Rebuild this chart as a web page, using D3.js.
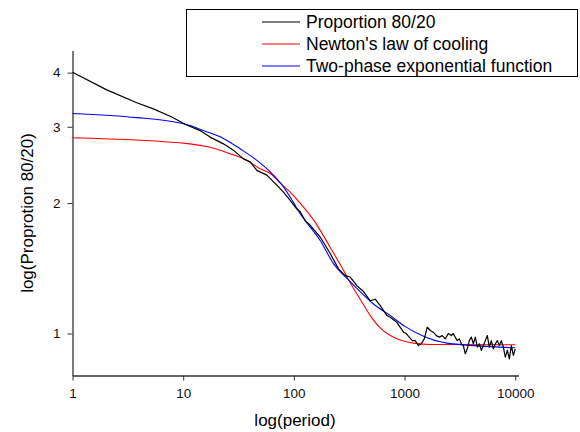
<!DOCTYPE html>
<html>
<head>
<meta charset="utf-8">
<script src="https://cdn.jsdelivr.net/npm/d3@7"></script>
<style>
body { margin: 0; background: #fff; }
text { font-family: "Liberation Sans", Arial, sans-serif; }
</style>
</head>
<body>
<svg id="svg" width="580" height="432"></svg>
<script>
// values
var propX = [1, 2.04, 3.81, 5.38, 7.89, 10.4, 14.2, 17.5, 23.1, 28.4, 35, 40.3, 46.3, 57, 70.2, 80.5, 92.6, 106, 114, 127, 140, 173, 213, 253, 291, 323, 371, 426, 490, 543, 603, 693, 743, 854, 980,
    1036, 1103, 1174, 1250, 1330, 1416, 1507, 1604, 1708, 1818, 1935, 2059, 2192, 2333, 2484, 2644, 2756,
    2873, 2996, 3124, 3256, 3394, 3538, 3689, 3846, 4010, 4181, 4358, 4543, 4737, 4938, 5148, 5367, 5594, 5832, 6081, 6339, 6609, 6890, 7181, 7486, 7805, 8137, 8483, 8844, 9220, 9612, 10000];
var propY = [4.01, 3.65, 3.41, 3.30, 3.16, 3.04, 2.94, 2.84, 2.74, 2.65, 2.53, 2.49, 2.38, 2.32, 2.20, 2.12, 2.03, 1.94, 1.91, 1.82, 1.78, 1.67, 1.53, 1.41, 1.36, 1.35, 1.29, 1.25, 1.19, 1.20, 1.16, 1.10, 1.09, 1.06, 1.007,
    1.0, 0.981, 0.963, 0.963, 0.938, 0.947, 0.972, 1.034, 1.016, 1.007, 0.989, 0.981, 0.989, 0.972, 1.0, 0.989, 1.0,
    0.98, 0.963, 0.972, 0.947, 0.938, 0.898, 0.922, 0.963, 0.981, 0.947, 0.981, 0.930, 0.947, 0.914, 0.938, 0.963, 0.989, 0.930, 0.963, 0.922, 0.947, 0.963, 0.938, 0.963, 0.930, 0.882, 0.914, 0.874, 0.938, 0.890, 0.922];

var newtonX = [1, 11.5, 17.5, 26.5, 37.6, 49.6, 61.2, 75.9, 92.6, 114, 155, 213, 272, 323, 397, 490, 603, 744, 854, 1206, 1730, 10000];
var newtonY = [2.83, 2.74, 2.69, 2.60, 2.51, 2.40, 2.34, 2.22, 2.12, 2.00, 1.81, 1.58, 1.42, 1.31, 1.20, 1.10, 1.03, 0.989, 0.972, 0.950, 0.943, 0.942];

var twoPhaseX = [1, 3.81, 7.6, 11.5, 15.2, 23.1, 32.6, 46.3, 61.2, 80.5, 98.8, 114, 127, 173, 228, 302, 397, 524, 744, 1000, 1485, 2417, 10000];
var twoPhaseY = [3.22, 3.15, 3.09, 3.02, 2.94, 2.82, 2.67, 2.51, 2.36, 2.18, 2.01, 1.89, 1.82, 1.64, 1.45, 1.34, 1.25, 1.17, 1.10, 1.04, 0.985, 0.950, 0.927];

var seriesNames = ["Proportion 80/20", "Newton's law of cooling", "Two-phase exponential function"];
var seriesColors = ["#000000", "#ff0000", "#0000ff"];

var xMajor = [1, 10, 100, 1000, 10000];
var yMajor = [1, 2, 3, 4];

var svg = d3.select("#svg");

var x = d3.scaleLog().domain([1, 10700]).range([72.5, 518.5]);
var y = d3.scaleLog().domain([0.8, 4.5]).range([375.5, 50.5]);

// minor ticks: 2..9 per decade on x, every 0.1 on y
var xMinor = [];
for (var p = 1; p <= 1000; p *= 10) {
    for (var k = 2; k <= 9; k++) xMinor.push(p * k);
}
var yMinor = [];
for (var v = 8; v <= 45; v++) {
    if (v % 10 != 0) yMinor.push(v / 10);
}

var gx = svg.append("g").attr("transform", "translate(0,375.5)");
gx.call(d3.axisBottom(x).tickValues(xMinor).tickFormat("").tickSize(3).tickSizeOuter(0));
gx.call(d3.axisBottom(x).tickValues(xMajor).tickFormat(d3.format("d")).tickSize(5).tickSizeOuter(0));

var gy = svg.append("g").attr("transform", "translate(72.5,0)");
gy.call(d3.axisLeft(y).tickValues(yMinor).tickFormat("").tickSize(3).tickSizeOuter(0));
gy.call(d3.axisLeft(y).tickValues(yMajor).tickFormat(d3.format("d")).tickSize(5).tickPadding(7).tickSizeOuter(0));

svg.selectAll(".domain").attr("stroke", "#333").attr("stroke-width", 1.3);
svg.selectAll(".tick line").attr("stroke", "#333");
svg.selectAll(".tick text").style("font-size", "13.5px").attr("fill", "#111");
gx.selectAll(".tick text").attr("dy", "1.05em");

// axis titles
svg.append("text")
    .attr("x", 295)
    .attr("y", 426)
    .attr("text-anchor", "middle")
    .style("font-size", "17px")
    .text("log(period)");

svg.append("text")
    .attr("transform", "translate(33,213) rotate(-90)")
    .attr("text-anchor", "middle")
    .style("font-size", "17px")
    .text("log(Proprotion 80/20)");

var rawLine = d3.line()
    .x(function(d) { return x(d[0]); })
    .y(function(d) { return y(d[1]); });

var fitLine = d3.line()
    .x(function(d) { return x(d[0]); })
    .y(function(d) { return y(d[1]); })
    .curve(d3.curveMonotoneX);

var series = [
    d3.zip(propX, propY),
    d3.zip(newtonX, newtonY),
    d3.zip(twoPhaseX, twoPhaseY)
];

// red first, blue, then the black data on top
[1, 2, 0].forEach(function(i) {
    svg.append("path")
        .attr("fill", "none")
        .attr("stroke", seriesColors[i])
        .attr("stroke-width", i == 0 ? 1.2 : 1.1)
        .attr("stroke-linejoin", "round")
        .attr("d", i == 0 ? rawLine(series[i]) : fitLine(series[i]));
});

// legend
var lg = svg.append("g");
lg.append("rect")
    .attr("x", 186.5)
    .attr("y", 9.5)
    .attr("width", 391)
    .attr("height", 67)
    .attr("fill", "#fff")
    .attr("stroke", "#000")
    .attr("stroke-width", 1);

seriesNames.forEach(function(name, i) {
    var ly = 22 + i * 22;
    lg.append("line")
        .attr("x1", 262)
        .attr("x2", 300)
        .attr("y1", ly)
        .attr("y2", ly)
        .attr("stroke", seriesColors[i])
        .attr("stroke-width", 1.1);
    lg.append("text")
        .attr("x", 306)
        .attr("y", ly + 6)
        .style("font-size", "17.5px")
        .text(name);
});
</script>
</body>
</html>
